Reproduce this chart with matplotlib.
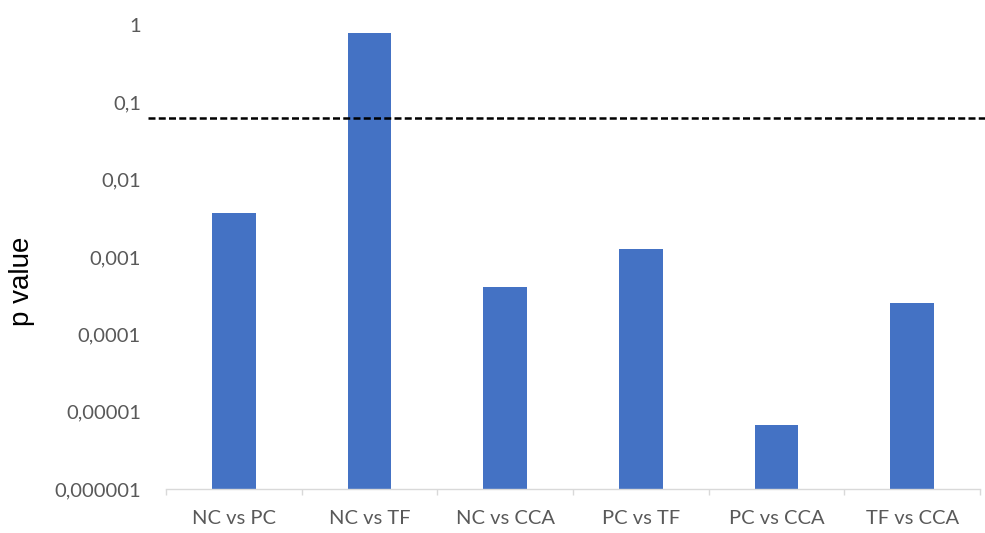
import matplotlib.pyplot as plt
import numpy as np
from matplotlib.ticker import FixedLocator, NullFormatter

# Données
comparaisons = ["NC vs PC", "NC vs TF", "NC vs CCA", "PC vs TF", "PC vs CCA", "TF vs CCA"]
p_values = [0.0037, 0.79, 0.00041, 0.00127, 0.0000068, 0.000255]
seuil = 0.062
graduations = [1e-6, 1e-5, 1e-4, 1e-3, 1e-2, 1e-1, 1]
etiquettes_y = ["0,000001", "0,00001", "0,0001", "0,001", "0,01", "0,1", "1"]

gris = "#595959"
bleu = "#4472C4"

fig = plt.figure(figsize=(9.85, 5.33), dpi=100)
ax = fig.add_axes([166 / 985, 44 / 533, 814 / 985, 464 / 533])

x = np.arange(len(comparaisons))
bas = 1e-6
ax.bar(x, [p - bas for p in p_values], bottom=bas, width=0.32, color=bleu, zorder=2)

ax.set_yscale("log")
ax.set_ylim(1e-6, 1)
ax.set_xlim(-0.5, len(comparaisons) - 0.5)

# ligne de seuil en pointillés
ax.plot([-0.022, 1.006], [seuil, seuil], transform=ax.get_yaxis_transform(),
        color="black", linewidth=1.8, dashes=(2.8, 1.3), clip_on=False, zorder=3)

ax.yaxis.set_major_locator(FixedLocator(graduations))
ax.yaxis.set_minor_locator(FixedLocator([]))
ax.set_yticklabels(etiquettes_y, fontsize=14.5, color=gris, family="Lato")
ax.tick_params(axis="y", length=0, pad=18)

ax.set_xticks(x)
ax.set_xticklabels(comparaisons, fontsize=14.5, color=gris, family="Lato")
ax.xaxis.set_minor_locator(FixedLocator(np.arange(-0.5, len(comparaisons), 1.0)))
ax.xaxis.set_minor_formatter(NullFormatter())
ax.tick_params(axis="x", which="major", length=0, pad=15)
ax.tick_params(axis="x", which="minor", length=4, width=1, color="#d9d9d9")

for side in ["top", "right", "left"]:
    ax.spines[side].set_visible(False)
ax.spines["bottom"].set_color("#d9d9d9")
ax.spines["bottom"].set_linewidth(1)

ax.set_ylabel("p value", fontsize=20, family="Liberation Sans", color="black")
ax.yaxis.set_label_coords(-0.161, 0.448)

fig.savefig("out.png", dpi=100)
